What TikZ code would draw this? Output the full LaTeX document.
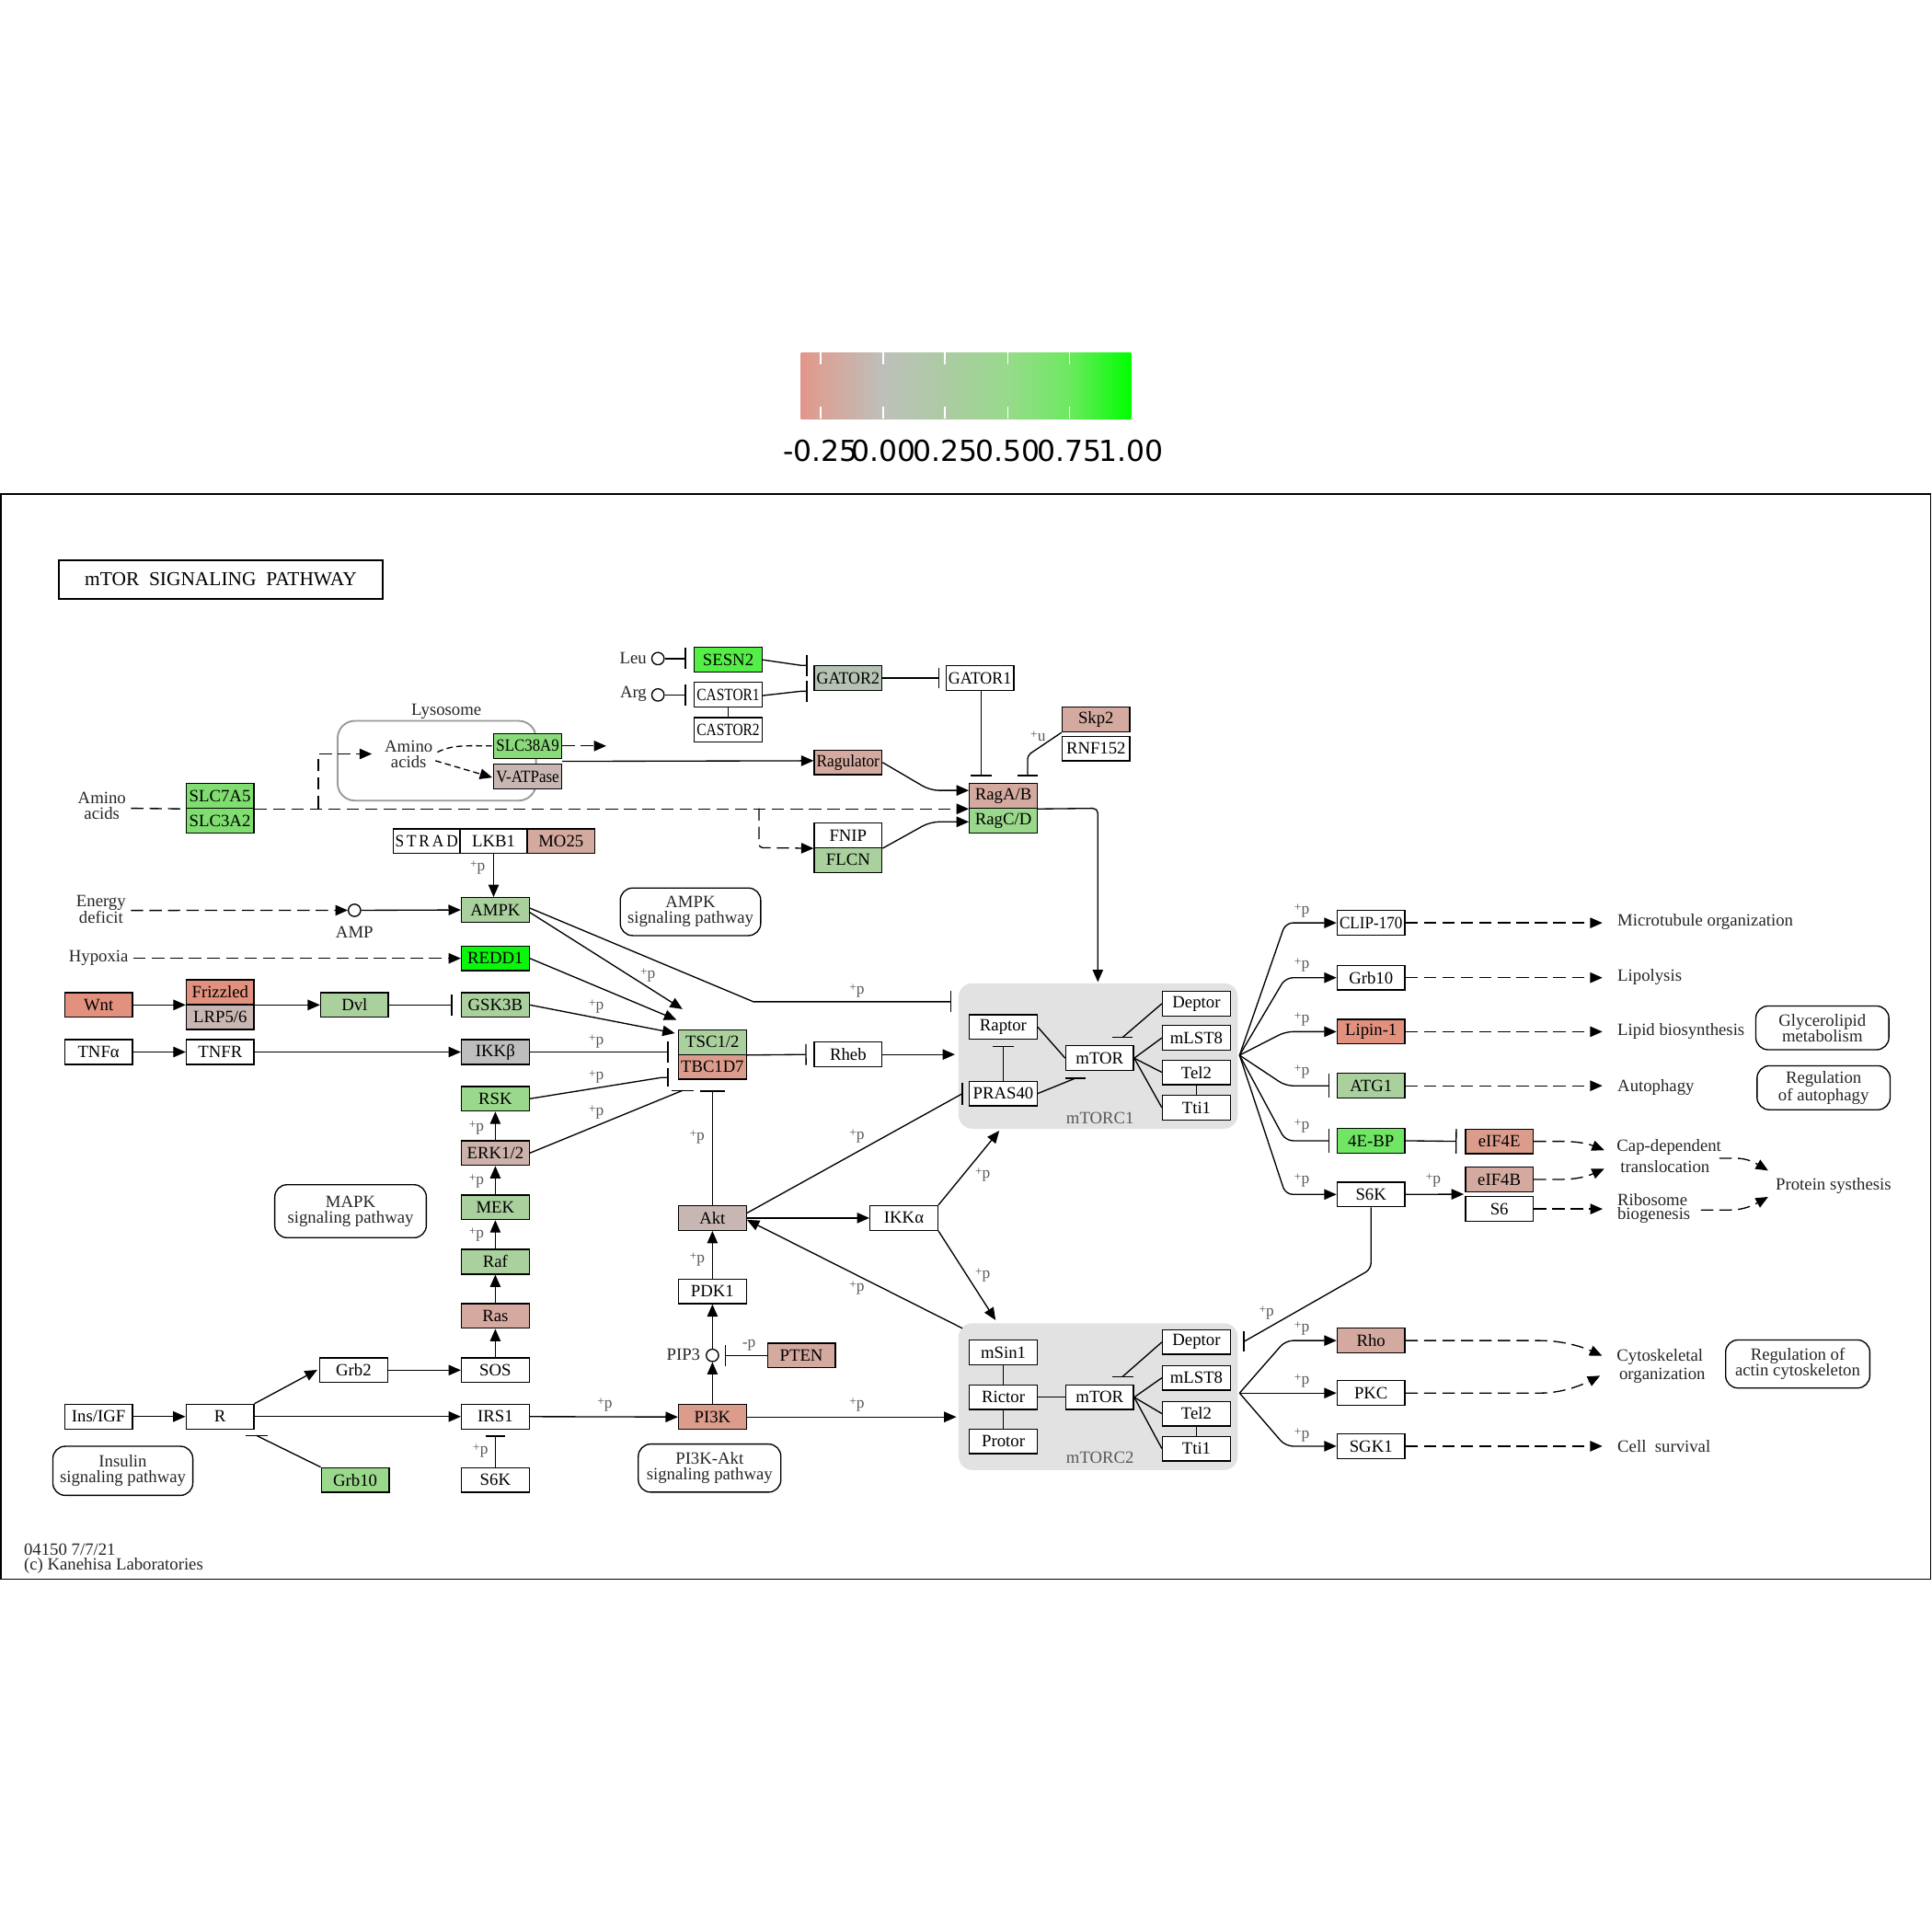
\documentclass[tikz,border=0pt]{standalone}
\usepackage{fontspec}
\usepackage{graphicx}
\setmainfont{Liberation Serif}
\newfontfamily\legfont{DejaVu Sans}
\usetikzlibrary{arrows.meta,calc}
\pgfdeclarelayer{reg}
\pgfdeclarelayer{edg}
\pgfsetlayers{reg,edg,main}
\definecolor{lgA}{RGB}{226,150,138}
\definecolor{lgB}{RGB}{218,162,150}
\definecolor{lgC}{RGB}{189,192,186}
\definecolor{lgD}{RGB}{172,203,163}
\definecolor{lgE}{RGB}{152,218,140}
\definecolor{lgF}{RGB}{108,233,96}
\definecolor{lgG}{RGB}{0,255,0}
\pgfdeclarehorizontalshading{legshade}{100bp}{color(0bp)=(lgA); color(25bp)=(lgA); color(28bp)=(lgB); color(37.5bp)=(lgC); color(46.8bp)=(lgD); color(56.3bp)=(lgE); color(65.7bp)=(lgF); color(75bp)=(lgG); color(100bp)=(lgG)}
\definecolor{cSES}{RGB}{85,238,70}
\definecolor{cRED}{RGB}{12,245,12}
\definecolor{cEBP}{RGB}{112,230,100}
\definecolor{cSLC}{RGB}{128,222,112}
\definecolor{cSLB}{RGB}{138,218,122}
\definecolor{cMG}{RGB}{154,216,140}
\definecolor{cLG}{RGB}{170,208,158}
\definecolor{cGAT}{RGB}{182,194,180}
\definecolor{cGRY}{RGB}{190,190,190}
\definecolor{cGP}{RGB}{200,182,178}
\definecolor{cERK}{RGB}{204,178,170}
\definecolor{cPK}{RGB}{212,170,160}
\definecolor{cSM}{RGB}{220,156,140}
\definecolor{cDP}{RGB}{225,145,126}
\definecolor{cREG}{RGB}{226,226,226}
\newlength\kgfitht
\newcommand\kgfx[1]{\sbox0{#1}\ifdim\wd0>51pt\relax\kgfitht=\ht0\relax\resizebox{51pt}{\kgfitht}{#1}\else\usebox0\fi}
\newcommand\kgnf{\fontsize{14}{13}\selectfont}
\newcommand\kglf{\fontsize{14}{12.8}\selectfont}
\newcommand\kgpf{\fontsize{13}{13}\selectfont}
\newcommand\kgpp{\raisebox{2.2pt}{\fontsize{10}{10}\selectfont+}p}
\begin{document}
\begin{tikzpicture}[x=1pt,y=-1pt,
  gb/.style={draw, line width=1pt, minimum width=55pt, minimum height=20pt, inner sep=0pt, font=\kgnf, fill=white},
  pw/.style={draw, line width=1pt, rounded corners=10pt, inner sep=0pt, font=\kglf, align=center, text=black!85},
  lab/.style={font=\kglf, inner sep=0pt, text=black!85, align=center},
  pl/.style={font=\kgpf, inner sep=0pt, text=black!65},
  ln/.style={line width=1pt},
  ar/.style={ln, -{Triangle[length=10pt,width=8.5pt]}},
  inh/.style={ln, -{Bar[width=17pt]}},
  dsh/.style={dash pattern=on 10pt off 5pt},
  sdsh/.style={dash pattern=on 5pt off 3pt},
  cir/.style={circle, draw, line width=1pt, minimum size=10pt, inner sep=0pt, fill=white}]
\useasboundingbox (0,0) rectangle (1568,1568);
\begin{pgfonlayer}{reg}
\fill[white] (0,0) rectangle (1568,1568);
\end{pgfonlayer}

% legend
\shade[shading=legshade] (650,286) rectangle (918,340);
\foreach \x in {666,717,767,818,868} {
  \draw[white, line width=1.2pt] (\x,286) -- (\x,296);
  \draw[white, line width=1.2pt] (\x,330) -- (\x,340);
}
\foreach \x/\t [count=\i] in {666/-0.25,717/0.00,767/0.25,818/0.50,868/0.75,918/1.00}
  \node[font=\legfont\fontsize{23.5}{24}\selectfont, inner sep=0pt] (leg\i) at (\x,366) {\t};

% frame and title
\draw[line width=1.1pt] (0.6,401) rectangle (1566.8,1281.5);
\node[draw, line width=1.8pt, minimum width=263pt, minimum height=31pt, inner sep=0pt, font=\fontsize{16}{16}\selectfont] (title) at (179.2,470.4) {mTOR\ \ SIGNALING\ \ PATHWAY};

% regions
\begin{pgfonlayer}{reg}
\node[fill=cREG, rounded corners=11pt, minimum width=226.5pt, minimum height=118pt, inner sep=0pt] (mTORC1) at (891.25,857) {};
\node[fill=cREG, rounded corners=11pt, minimum width=226.5pt, minimum height=119pt, inner sep=0pt] (mTORC2) at (891.25,1133.5) {};
\node[draw=black!40, line width=1.4pt, rounded corners=14pt, minimum width=161pt, minimum height=64.7pt, inner sep=0pt] (lyso) at (354.5,617.4) {};
\end{pgfonlayer}
\node[lab, text=black!65] (lmTORC1) at (892.8,907.5) {mTORC1};
\node[lab, text=black!65] (lmTORC2) at (892.8,1183) {mTORC2};
\node[lab] (llyso) at (362.3,577.5) {Lysosome};

% gene boxes: top
\node[gb,fill=cSES] (SESN2) at (591,535.5) {\kgfx{SESN2}};
\node[gb] (CASTOR1) at (591,563.8) {\kgfx{CASTOR1}};
\node[gb] (CASTOR2) at (591,592.3) {\kgfx{CASTOR2}};
\node[gb,fill=cGAT] (GATOR2) at (688.3,550.3) {\kgfx{GATOR2}};
\node[gb] (GATOR1) at (795.3,550.3) {\kgfx{GATOR1}};
\node[gb,fill=cPK] (Skp2) at (889.5,584) {\kgfx{Skp2}};
\node[gb] (RNF152) at (889.5,607.6) {\kgfx{RNF152}};
\node[gb,fill=cPK] (Ragulator) at (688.3,618.8) {\kgfx{Ragulator}};
\node[gb,fill=cPK] (RagAB) at (814.3,646) {\kgfx{RagA/B}};
\node[gb,fill=cMG] (RagCD) at (814.3,666) {\kgfx{RagC/D}};
\node[gb] (FNIP) at (688.3,678) {\kgfx{FNIP}};
\node[gb,fill=cLG] (FLCN) at (688.3,698) {\kgfx{FLCN}};
\node[gb,fill=cSLB] (SLC38A9) at (428.3,605.4) {\kgfx{SLC38A9}};
\node[gb,fill=cGP] (VATP) at (428.3,630.2) {\kgfx{V-ATPase}};
\node[gb,fill=cSLC] (SLC7A5) at (178.5,646) {\kgfx{SLC7A5}};
\node[gb,fill=cSLC] (SLC3A2) at (178.5,666) {\kgfx{SLC3A2}};
\node[gb,minimum width=54.4pt] (STRAD) at (346.2,682.7) {\kgfx{S\,T\,R\,A\,D}};
\node[gb,minimum width=54.4pt] (LKB1) at (400.6,682.7) {\kgfx{LKB1}};
\node[gb,fill=cPK] (MO25) at (455.3,682.7) {\kgfx{MO25}};
% left column
\node[gb,fill=cLG] (AMPK) at (402,738.5) {\kgfx{AMPK}};
\node[gb,fill=cRED] (REDD1) at (402,777.8) {\kgfx{REDD1}};
\node[gb,fill=cDP] (Wnt) at (80,815.6) {\kgfx{Wnt}};
\node[gb,fill=cDP] (Frizzled) at (178.7,805.1) {\kgfx{Frizzled}};
\node[gb,fill=cGP] (LRP) at (178.7,825.5) {\kgfx{LRP5/6}};
\node[gb,fill=cLG] (Dvl) at (287.7,815.6) {\kgfx{Dvl}};
\node[gb,fill=cLG] (GSK3B) at (402,815.6) {\kgfx{GSK3B}};
\node[gb] (TNFa) at (80,853.8) {\kgfx{TNFα}};
\node[gb] (TNFR) at (178.7,853.8) {\kgfx{TNFR}};
\node[gb,fill=cGRY] (IKKb) at (402,853.8) {\kgfx{IKKβ}};
\node[gb,fill=cMG] (RSK) at (402,891.7) {\kgfx{RSK}};
\node[gb,fill=cERK] (ERK) at (402,935.8) {\kgfx{ERK1/2}};
\node[gb,fill=cLG] (MEK) at (402,979.8) {\kgfx{MEK}};
\node[gb,fill=cLG] (Raf) at (402,1024) {\kgfx{Raf}};
\node[gb,fill=cPK] (Ras) at (402,1068) {\kgfx{Ras}};
\node[gb] (Grb2) at (287,1112) {\kgfx{Grb2}};
\node[gb] (SOS) at (402,1112) {\kgfx{SOS}};
\node[gb] (InsIGF) at (80,1149.7) {\kgfx{Ins/IGF}};
\node[gb] (R) at (178.5,1149.7) {\kgfx{R}};
\node[gb] (IRS1) at (402,1149.7) {\kgfx{IRS1}};
\node[gb,fill=cMG] (Grb10b) at (288.3,1201.2) {\kgfx{Grb10}};
\node[gb] (S6Kb) at (402,1201.2) {\kgfx{S6K}};
% middle column
\node[gb,fill=cLG] (TSC) at (578.2,845.8) {\kgfx{TSC1/2}};
\node[gb,fill=cSM] (TBC) at (578.2,865.8) {\kgfx{TBC1D7}};
\node[gb] (Rheb) at (688.3,855.8) {\kgfx{Rheb}};
\node[gb,fill=cGP] (Akt) at (578.2,988.5) {\kgfx{Akt}};
\node[gb] (PDK1) at (578.2,1048) {\kgfx{PDK1}};
\node[gb,fill=cSM] (PI3K) at (578.2,1150) {\kgfx{PI3K}};
\node[gb,fill=cPK] (PTEN) at (650.4,1100) {\kgfx{PTEN}};
\node[gb] (IKKa) at (733.6,988.5) {\kgfx{IKKα}};
% mTORC1
\node[gb] (Raptor) at (814.2,833.5) {\kgfx{Raptor}};
\node[gb] (PRAS40) at (814.2,887.5) {\kgfx{PRAS40}};
\node[gb] (mTORa) at (892.5,858.8) {\kgfx{mTOR}};
\node[gb] (Deptora) at (971,814.5) {\kgfx{Deptor}};
\node[gb] (mLSTa) at (971,842.3) {\kgfx{mLST8}};
\node[gb] (Tela) at (971,870.3) {\kgfx{Tel2}};
\node[gb] (Ttia) at (971,899) {\kgfx{Tti1}};
% mTORC2
\node[gb] (mSin1) at (814.3,1097.6) {\kgfx{mSin1}};
\node[gb] (Rictor) at (814.3,1134) {\kgfx{Rictor}};
\node[gb] (Protor) at (814.3,1169.8) {\kgfx{Protor}};
\node[gb] (mTORb) at (892.5,1134) {\kgfx{mTOR}};
\node[gb] (Deptorb) at (971,1089.2) {\kgfx{Deptor}};
\node[gb] (mLSTb) at (971,1118.2) {\kgfx{mLST8}};
\node[gb] (Telb) at (971,1147.3) {\kgfx{Tel2}};
\node[gb] (Ttib) at (971,1175.7) {\kgfx{Tti1}};
% right column
\node[gb] (CLIP) at (1112.7,749) {\kgfx{CLIP-170}};
\node[gb] (Grb10r) at (1112.7,793.5) {\kgfx{Grb10}};
\node[gb,fill=cDP] (Lipin) at (1112.7,837.3) {\kgfx{Lipin-1}};
\node[gb,fill=cLG] (ATG1) at (1112.7,881.2) {\kgfx{ATG1}};
\node[gb,fill=cEBP] (EBP) at (1112.7,925.8) {\kgfx{4E-BP}};
\node[gb] (S6Kr) at (1112.7,969.4) {\kgfx{S6K}};
\node[gb,fill=cSM] (eIF4E) at (1216.8,926.3) {\kgfx{eIF4E}};
\node[gb,fill=cPK] (eIF4B) at (1216.8,957.2) {\kgfx{eIF4B}};
\node[gb] (S6) at (1216.8,981.2) {\kgfx{S6}};
\node[gb,fill=cPK] (Rho) at (1112.7,1088) {\kgfx{Rho}};
\node[gb] (PKC) at (1112.7,1130.6) {\kgfx{PKC}};
\node[gb] (SGK1) at (1112.7,1173.7) {\kgfx{SGK1}};

% pathway boxes
\node[pw, minimum width=114pt, minimum height=38.6pt] (pwAMPK) at (560.4,740) {AMPK\\signaling pathway};
\node[pw, minimum width=108pt, minimum height=35.5pt] (pwGly) at (1479,834.2) {Glycerolipid\\metabolism};
\node[pw, minimum width=108pt, minimum height=35.7pt] (pwAut) at (1480,882.8) {Regulation\\of autophagy};
\node[pw, minimum width=123pt, minimum height=43pt] (pwMAPK) at (284.5,983) {MAPK\\signaling pathway};
\node[pw, minimum width=113.6pt, minimum height=39.8pt] (pwIns) at (99.7,1193.7) {Insulin\\signaling pathway};
\node[pw, minimum width=115.7pt, minimum height=39pt] (pwPI3K) at (575.9,1191.5) {PI3K-Akt\\signaling pathway};
\node[pw, minimum width=117pt, minimum height=39pt] (pwAct) at (1459,1107) {Regulation of\\actin cytoskeleton};

% small compounds and text labels
\node[cir] (leu) at (534,534.5) {};
\node[cir] (arg) at (534,564) {};
\node[cir] (amp) at (287.7,738.8) {};
\node[cir] (pip3) at (578.2,1100) {};
\node[lab, anchor=east] (tleu) at (525,534) {Leu};
\node[lab, anchor=east] (targ) at (525,563.5) {Arg};
\node[lab] (tamp) at (287.7,756.8) {AMP};
\node[lab, anchor=east] (tpip3) at (568.5,1099) {PIP3};
\node[lab] (aaleft) at (82.7,654) {Amino\\acids};
\node[lab] (aalys) at (331.7,612.3) {Amino\\acids};
\node[lab] (energy) at (82,737.9) {Energy\\deficit};
\node[lab] (hypoxia) at (80,777.2) {Hypoxia};
\node[lab, anchor=west] (tmicro) at (1312.6,748) {Microtubule organization};
\node[lab, anchor=west] (tlipo) at (1312.6,793) {Lipolysis};
\node[lab, anchor=west] (tlipid) at (1312.6,836.8) {Lipid biosynthesis};
\node[lab, anchor=west] (tauto) at (1312.6,882.5) {Autophagy};
\node[lab, anchor=west] (tcap) at (1312,931) {Cap-dependent};
\node[lab, anchor=west] (ttrans) at (1315,946.5) {translocation};
\node[lab, anchor=west] (tribo) at (1312.5,974) {Ribosome};
\node[lab, anchor=west] (tbiog) at (1312.5,986.5) {biogenesis};
\node[lab, anchor=west] (tprot) at (1441,962.5) {Protein systhesis};
\node[lab, anchor=west] (tcyto) at (1312,1101.6) {Cytoskeletal};
\node[lab, anchor=west] (torg) at (1314,1116.5) {organization};
\node[lab, anchor=west] (tsurv) at (1312.6,1173.8) {Cell\ \ survival};
\node[lab, anchor=west] (foot1) at (19.3,1257.7) {04150 7/7/21};
\node[lab, anchor=west] (foot2) at (19.3,1270.9) {(c) Kanehisa Laboratories};

% fan points
\coordinate (fan1) at (1006,856.4);
\coordinate (fan2) at (1006,1130.6);

% +p labels
\foreach \px/\py [count=\i] in {387.7/704.5, 525.8/791.6, 484/816.8, 484/845.4, 484/874, 484/902.6,
   386.8/915.3, 386.8/958.8, 386.8/1002.4, 565.8/923, 695.5/804, 695.5/922, 797.6/953.6, 797.6/1035,
   695.5/1045.5, 566/1022.5, 695.5/1140.4, 490.9/1140, 390/1177.5,
   1056.6/739.4, 1056.6/783, 1056.6/827, 1056.6/870, 1056.6/914, 1056.6/958, 1163.3/958,
   1028/1065.5, 1056.6/1078, 1056.6/1121, 1056.6/1165}
  \node[pl] (plus\i) at (\px,\py) {\kgpp};
\node[pl] (tmp) at (607.8,1092) {-p};
\node[pl] (tplu) at (842.5,597.5) {\raisebox{2.2pt}{\fontsize{10}{10}\selectfont+}u};

\begin{pgfonlayer}{edg}
% amino acid sensing
\draw[inh] (leu.east) -- (556.7,534.5);
\draw[inh] (arg.east) -- (556.7,564);
\draw[inh] (SESN2.east) -- (650,540) -- (655.3,540);
\draw[inh] ($(CASTOR1.east)+(0,0.7)$) -- (650,561) -- (655.3,561);
\draw[ln] (CASTOR1.south) -- (CASTOR2.north);
\draw[inh] (GATOR2.east) -- (762.3,550.3);
\draw[inh] ($(GATOR1.south)+(1,0)$) -- (796.3,630);
\draw[inh, rounded corners=3pt] (Skp2.south west) -- (834,613) -- (834,630);
% amino acids / lysosome
\draw[ln,dsh] ($(aaleft.east)+(4,2)$) -- (SLC7A5.south west);
\draw[ar,dsh] (SLC7A5.south east) -- (RagAB.south west);
\draw[ar,dsh] (258.4,656) -- (258.4,611.9) -- (301.8,611.9);
\draw[ln,sdsh] (355,610.4) .. controls (368,604) and (380,605.4) .. (SLC38A9.west);
\draw[ar,sdsh] (353.4,617.4) -- (399.5,631);
\draw[ar,dsh] (SLC38A9.east) -- (492,605.4);
\draw[ar] ($(SLC38A9.south east)+(0,2)$) -- ($(Ragulator.west)+(0,-1.4)$);
\draw[ar, rounded corners=7pt] (Ragulator.east) -- (755,641.5) -- ($(RagAB.west)+(0,-4.5)$);
\draw[ar,dsh, rounded corners=3pt] (616,656) -- (616,688) -- (FNIP.south west);
\draw[ar, rounded corners=7pt] (FNIP.south east) -- (755,667) -- ($(RagCD.west)+(0,1)$);
\draw[ar, rounded corners=4pt] (RagAB.south east) -- (891,656) -- (891,797);
% AMPK etc
\draw[ar] (LKB1.south) -- (LKB1.south |- AMPK.north);
\draw[ar,dsh] ($(energy.east)+(4,1)$) -- (amp.west);
\draw[ar] (amp.east) -- (AMPK.west);
\draw[ar,dsh] ($(hypoxia.east)+(4,0.6)$) -- (REDD1.west);
\draw[ar] (Wnt.east) -- (Frizzled.south west);
\draw[ar] (Frizzled.south east) -- (Dvl.west);
\draw[inh] (Dvl.east) -- ($(GSK3B.west)+(-7,0)$);
\draw[ar] (TNFa.east) -- (TNFR.west);
\draw[ar] (TNFR.east) -- (IKKb.west);
\draw[inh] ($(AMPK.east)+(0,-1.5)$) -- (611.5,813) -- (772.2,813);
\draw[ar] ($(AMPK.east)+(0,2)$) -- (553.9,819);
\draw[ar] (REDD1.east) -- (549,827.7);
\draw[ar] (GSK3B.east) -- (547.7,838.5);
\draw[inh] (IKKb.east) -- (542.5,853.8);
\draw[ln, -{Bar[width=15pt]}] (RSK.east) -- (537,874.5) -- (542.5,874.5);
\draw[ln] (ERK.east) -- (554,885);
\draw[ln] (545,885) -- (563,885);
\draw[ln, -{Bar[width=20pt]}] (Akt.north) -- (578.2,885);
\draw[ar] (ERK.north) -- (RSK.south);
\draw[ar] (MEK.north) -- (ERK.south);
\draw[ar] (Raf.north) -- (MEK.south);
\draw[ar] (Ras.north) -- (Raf.south);
\draw[ar] (SOS.north) -- (Ras.south);
% TSC / Rheb / Akt
\draw[inh] (TSC.south east) -- ($(Rheb.west)+(-5.7,0)$);
\draw[ar] (Rheb.east) -- (775,855.8);
\draw[ln] ($(Akt.east)+(0,-4)$) -- (781,887.6);
\draw[ln] (781,878.5) -- (781,896.5);
\draw[ar] (Akt.east) -- (IKKa.west);
\draw[ar] (IKKa.north east) -- (811,917.7);
\draw[ar] (IKKa.south east) -- (808,1071.4);
\draw[ar] (781,1078) -- ($(Akt.east)+(0,1.5)$);
\draw[ar] (PDK1.north) -- (Akt.south);
\draw[ar] (pip3.north) -- (PDK1.south);
\draw[ar] (PI3K.north) -- (pip3.south);
\draw[inh] (PTEN.west) -- (588,1100);
\draw[ar] (PI3K.east) -- (776.2,1150);
% insulin
\draw[ar] (IRS1.east) -- (PI3K.west);
\draw[ar] (R.east) -- (IRS1.west);
\draw[ar] (InsIGF.east) -- (R.west);
\draw[ar] (R.north east) -- (257.5,1111.8);
\draw[ar] (Grb2.east) -- (SOS.west);
\draw[ln] (Grb10b.north west) -- (208,1165);
\draw[ln] (199,1165) -- (217,1165);
\draw[ln, -{Bar[width=16pt]}] (S6Kb.north) -- (402,1165);
% mTORC1 internal
\draw[ln] (Raptor.east) -- (mTORa.west);
\draw[ln, -{Bar[width=17pt]}] (PRAS40.north) -- (814.2,849);
\draw[ln] (PRAS40.east) -- (873,875);
\draw[ln] (865,875) -- (881,875);
\draw[ln] (Deptora.west) -- (911,842);
\draw[ln] (903,842) -- (919,842);
\draw[ln] (mTORa.east) -- (mLSTa.west);
\draw[ln] (mTORa.east) -- (Tela.west);
\draw[ln] (mTORa.east) -- (Ttia.west);
\draw[ln] (Tela.south) -- (Ttia.north);
% mTORC2 internal
\draw[ln] (mSin1.south) -- (Rictor.north);
\draw[ln] (Rictor.south) -- (Protor.north);
\draw[ln] (Rictor.east) -- (mTORb.west);
\draw[ln] (Deptorb.west) -- (911,1117.3);
\draw[ln] (903,1117.3) -- (920,1117.3);
\draw[ln] (mTORb.east) -- (mLSTb.west);
\draw[ln] (mTORb.east) -- (Telb.west);
\draw[ln] (mTORb.east) -- (Ttib.west);
\draw[ln] (Telb.south) -- (Ttib.north);
% mTORC1 outputs
\foreach \n/\yy in {CLIP/749, Grb10r/793.5, Lipin/837.3, S6Kr/969.4}
  \draw[ar, rounded corners=6pt] (fan1) -- (1043.3,\yy) -- (\n.west);
\foreach \n/\yy in {ATG1/881.2, EBP/925.8}
  \draw[ln, -{Bar[width=19pt]}, rounded corners=6pt] (fan1) -- (1043.3,\yy) -- ($(\n.west)+(-5.5,0)$);
\draw[ln, -{Bar[width=20pt]}] (EBP.east) -- ($(eIF4E.west)+(-6.5,0)$);
\draw[ar] (S6Kr.east) -- (1188,969.2);
% mTORC2 outputs
\draw[ar, rounded corners=6pt] (fan2) -- (1043.3,1088) -- (Rho.west);
\draw[ar] (fan2) -- (PKC.west);
\draw[ar, rounded corners=6pt] (fan2) -- (1043.3,1173.7) -- (SGK1.west);
\draw[ln, rounded corners=5pt] (S6Kr.south) -- (1112.7,1030) -- (1009.6,1088.8);
\draw[ln] (1009.6,1080.4) -- (1009.6,1097);
% dashed outputs
\draw[ar,dsh] (CLIP.east) -- (1300.5,749);
\draw[ar,dsh] (Grb10r.east) -- (1300.5,793.5);
\draw[ar,dsh] (Lipin.east) -- (1300.5,837.3);
\draw[ar,dsh] (ATG1.east) -- (1300.5,881.2);
\draw[ar,dsh] (eIF4E.east) -- (1266,926.3) .. controls (1281,926.3) and (1289,928.3) .. (1302,933.5);
\draw[ar,dsh] (eIF4B.east) -- (1266,957.2) .. controls (1281,957.2) and (1289,954.3) .. (1302,948.5);
\draw[ar,dsh] (S6.east) -- (1300.7,981.2);
\draw[ar,dsh] (1395.5,940) -- (1408,940) .. controls (1418,940) and (1424,943.5) .. (1435,950);
\draw[ar,dsh] (1380.5,982) -- (1404,982) .. controls (1416,982) and (1424,977.5) .. (1435,971.4);
\draw[ar,dsh] (Rho.east) -- (1250,1088) .. controls (1268,1088) and (1284,1093) .. (1300.2,1100.3);
\draw[ar,dsh] (PKC.east) -- (1250,1130.6) .. controls (1268,1130.6) and (1284,1124) .. (1298.6,1116.5);
\draw[ar,dsh] (SGK1.east) -- (1300.5,1173.7);
\end{pgfonlayer}
\end{tikzpicture}
\end{document}
